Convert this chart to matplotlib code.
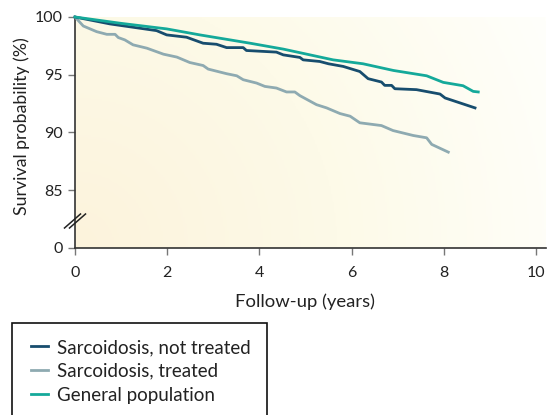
import matplotlib.pyplot as plt
import numpy as np
from matplotlib.colors import LinearSegmentedColormap
from matplotlib.patches import Rectangle

plt.rcParams["font.family"] = ["Lato", "DejaVu Sans"]

# Kaplan-Meier curves (years, survival %)
not_treated_t = [0.0, 0.76, 1.77, 1.99, 2.42, 2.78, 3.07, 3.29, 3.65, 3.72, 4.37,
                 4.52, 4.88, 4.95, 5.31, 5.50, 5.82, 6.18, 6.36, 6.65, 6.72,
                 6.87, 6.94, 7.41, 7.92, 8.03, 8.68]
not_treated_v = [100.0, 99.40, 98.82, 98.45, 98.25, 97.73, 97.64, 97.35, 97.35, 97.10, 96.96,
                 96.72, 96.50, 96.29, 96.15, 95.95, 95.72, 95.28, 94.66, 94.37, 94.08,
                 94.08, 93.79, 93.71, 93.33, 92.99, 92.13]

treated_t = [0.0, 0.18, 0.47, 0.69, 0.87, 0.94, 1.08, 1.26, 1.56, 1.92, 2.21, 2.49,
             2.78, 2.89, 3.29, 3.51, 3.65, 3.94, 4.12, 4.37, 4.59, 4.77, 4.88,
             5.24, 5.46, 5.75, 5.97, 6.18, 6.65, 6.90, 7.34, 7.63, 7.74, 8.10]
treated_v = [100.0, 99.22, 98.73, 98.50, 98.50, 98.22, 98.02, 97.59, 97.30, 96.78, 96.53, 96.06,
             95.80, 95.49, 95.09, 94.91, 94.57, 94.28, 93.99, 93.85, 93.51, 93.51, 93.19,
             92.41, 92.13, 91.64, 91.41, 90.84, 90.60, 90.17, 89.74, 89.54, 88.97, 88.30]

general_t = [0.0, 1.0, 1.99, 2.71, 3.80, 4.52, 5.60, 6.25, 6.91, 7.63, 7.99, 8.42, 8.64, 8.75]
general_v = [100.0, 99.45, 98.97, 98.45, 97.73, 97.22, 96.29, 95.95, 95.37, 94.91, 94.34, 94.05, 93.56, 93.51]

labels = ["Sarcoidosis, not treated", "Sarcoidosis, treated", "General population"]
colors = ["#174d6e", "#8eaab1", "#14a99a"]

x_ticks = [0, 2, 4, 6, 8, 10]
# broken axis: the "0" tick sits one step below 85
y_ticks = [80, 85, 90, 95, 100]
y_tick_labels = ["0", "85", "90", "95", "100"]

W, H = 547, 415
fig = plt.figure(figsize=(W / 100, H / 100), dpi=100)
ax = fig.add_axes([75 / W, 1 - 248 / H, 471 / W, 231 / H])

# radial cream background, strongest in the lower-left corner
nx, ny = 300, 150
gx, gy = np.meshgrid(np.linspace(0, 1, nx), np.linspace(0, 1, ny))
dist = np.sqrt((gx * 471 / 231) ** 2 + gy ** 2) / np.sqrt((471 / 231) ** 2 + 1)
bg_cmap = LinearSegmentedColormap.from_list("bg", ["#fcf3dc", "#fdfae8", "#fffffb"])
ax.imshow(dist, cmap=bg_cmap, extent=[0, 1, 0, 1], origin="lower",
          transform=ax.transAxes, aspect="auto", zorder=0, vmin=0, vmax=1.0)

ax.plot(not_treated_t, not_treated_v, color=colors[0], lw=2.0, label=labels[0],
        zorder=4, clip_on=False, solid_joinstyle="round")
ax.plot(treated_t, treated_v, color=colors[1], lw=2.0, label=labels[1],
        zorder=3, clip_on=False, solid_joinstyle="round")
ax.plot(general_t, general_v, color=colors[2], lw=2.0, label=labels[2],
        zorder=5, clip_on=False, solid_joinstyle="round")

ax.set_xlim(0, 10.22)
ax.set_ylim(80, 100)
ax.set_xticks(x_ticks)
ax.set_yticks(y_ticks)
ax.set_yticklabels(y_tick_labels)
ax.tick_params(length=5, width=1, color="#777777", labelsize=11.5, labelcolor="#222222")
ax.tick_params(axis="x", pad=8)
ax.tick_params(axis="y", pad=4)

for side in ["top", "right"]:
    ax.spines[side].set_visible(False)
for side in ["left", "bottom"]:
    ax.spines[side].set_color("#333333")
    ax.spines[side].set_linewidth(1.2)

# axis-break marks on the y axis
for dx in (-2.5, 2.5):
    x0 = (-8 + dx) / 471
    x1 = (8 + dx) / 471
    ax.plot([x0, x1], [(248 - 228) / 231, (248 - 214) / 231], color="#222222",
            lw=1.1, transform=ax.transAxes, clip_on=False, zorder=6)

ax.set_xlabel("Follow-up (years)", fontsize=13.3, color="#222222", labelpad=7)
ax.xaxis.set_label_coords((305 - 75) / 471, -(310 - 248) / 231, transform=ax.transAxes)
ax.xaxis.label.set_va("bottom")
ax.set_ylabel("Survival probability (%)", fontsize=12.8, color="#222222")
ax.yaxis.set_label_coords(-(75 - 22) / 471, (248 - 126) / 231, transform=ax.transAxes)
ax.yaxis.label.set_va("center")

# legend box runs off the bottom of the figure
fig.patches.append(Rectangle((12 / W, -0.05), 255 / W, (415 - 323) / H + 0.05,
                             transform=fig.transFigure, fill=False,
                             edgecolor="#111111", lw=1.2))
handles, _ = ax.get_legend_handles_labels()
fig.legend(handles, labels, loc="upper left", bbox_to_anchor=(31 / W, 1 - 339 / H),
           frameon=False, fontsize=13.5, handlelength=0.9, handletextpad=0.5,
           labelspacing=0.36, borderpad=0, borderaxespad=0, labelcolor="#222222")

fig.savefig("out.png", dpi=100)
